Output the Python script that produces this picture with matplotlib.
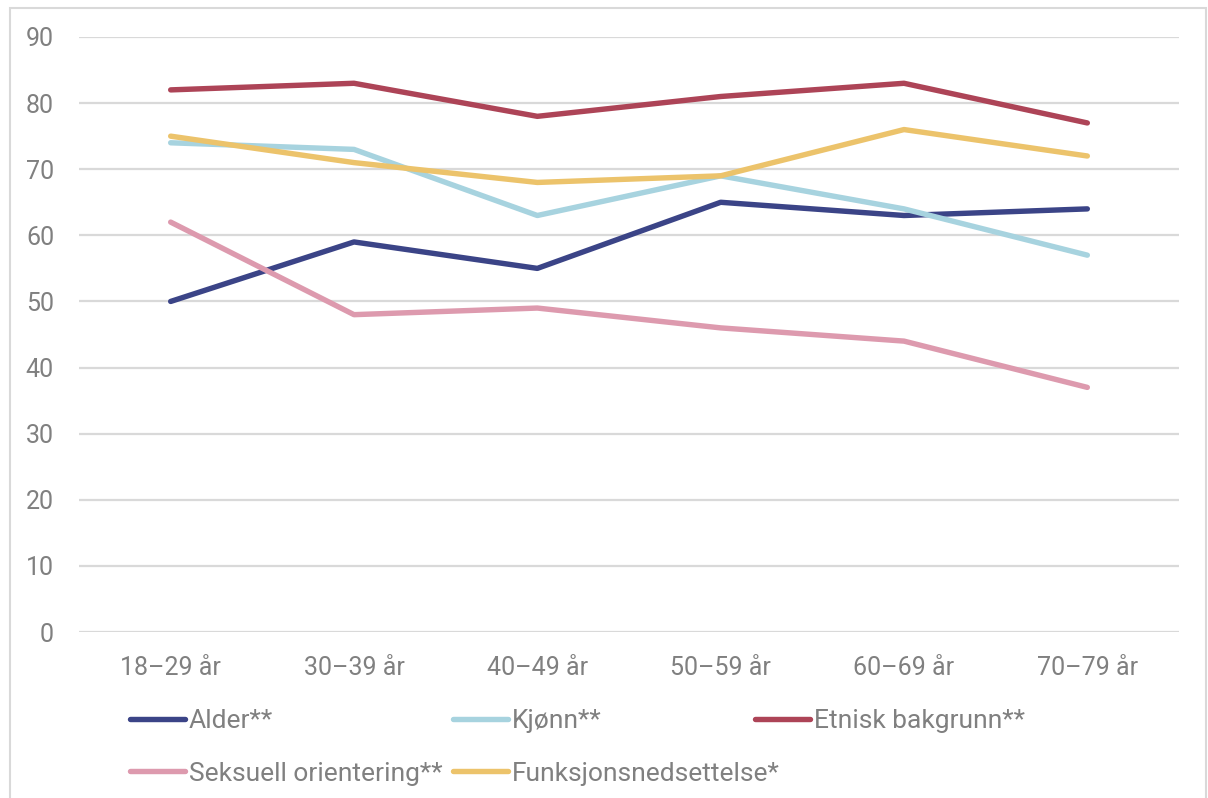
"""
Line chart: share by age group for five discrimination grounds.
"""
import matplotlib
matplotlib.use("Agg")
import matplotlib.pyplot as plt
from matplotlib.patches import Rectangle

age_groups = ["18–29 år", "30–39 år", "40–49 år", "50–59 år", "60–69 år", "70–79 år"]

alder = [50, 59, 55, 65, 63, 64]
kjonn = [74, 73, 63, 69, 64, 57]
etnisk = [82, 83, 78, 81, 83, 77]
seksuell = [62, 48, 49, 46, 44, 37]
funksjon = [75, 71, 68, 69, 76, 72]

series = [
    ("Alder**", alder, "#3b4487"),
    ("Kjønn**", kjonn, "#a7d3df"),
    ("Etnisk bakgrunn**", etnisk, "#ad4457"),
    ("Seksuell orientering**", seksuell, "#dd9aae"),
    ("Funksjonsnedsettelse*", funksjon, "#ecc36b"),
]

plt.rcParams["font.family"] = ["Roboto", "DejaVu Sans"]
text_color = "#808080"
grid_color = "#d9d9d9"

fig = plt.figure(figsize=(12.08, 7.98), dpi=100)
ax = fig.add_axes([79 / 1208, 1 - 632 / 798, 1100 / 1208, 595 / 798])

# outer frame of the chart area
fig.patches.append(Rectangle((10 / 1208, -0.01), 1196 / 1208, 1 - 8 / 798 + 0.01,
                             transform=fig.transFigure, fill=False,
                             edgecolor="#d9d9d9", linewidth=1.5))

x = range(len(age_groups))
lines = {}
for name, vals, color in series:
    (ln,) = ax.plot(x, vals, color=color, linewidth=3.9,
                    solid_capstyle="round", solid_joinstyle="round", label=name)
    lines[name] = ln

ax.set_xlim(-0.5, len(age_groups) - 0.5)
ax.set_ylim(0, 90)
ax.set_yticks(range(0, 91, 10))
ax.set_xticks(list(x))
ax.set_xticklabels(age_groups)
ax.grid(axis="y", color=grid_color, linewidth=1.6)
ax.set_axisbelow(True)
for s in ax.spines.values():
    s.set_visible(False)
ax.tick_params(length=0, labelsize=18, labelcolor=text_color)
ax.tick_params(axis="y", pad=18)
ax.tick_params(axis="x", pad=17)

# legend: three columns placed separately
columns = [
    (["Alder**", "Seksuell orientering**"], 130),
    (["Kjønn**", "Funksjonsnedsettelse*"], 453),
    (["Etnisk bakgrunn**"], 755),
]
for names, xpos in columns:
    leg = fig.legend([lines[n] for n in names], names, ncol=1,
                     loc="upper left", bbox_to_anchor=(xpos / 1208, 1 - 709 / 798),
                     frameon=False, fontsize=19, handlelength=2.1,
                     handletextpad=0.12, labelspacing=1.08,
                     borderpad=0, borderaxespad=0)
    for t in leg.get_texts():
        t.set_color(text_color)

fig.savefig("out.png", dpi=100)
